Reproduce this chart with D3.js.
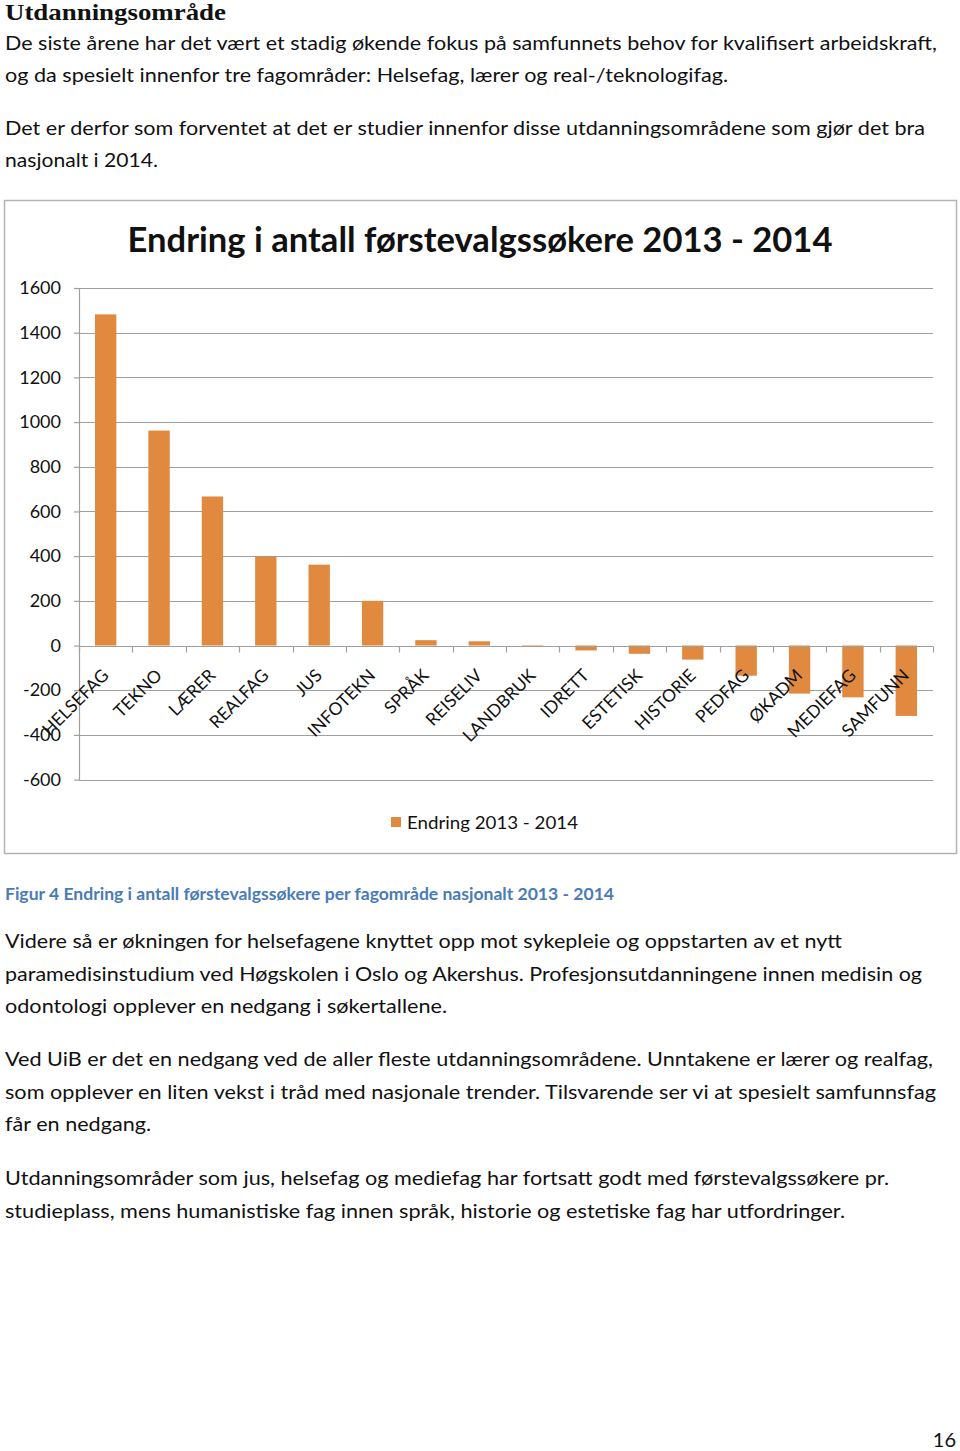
<!DOCTYPE html>
<html><head><meta charset="utf-8">
<script src="https://cdn.jsdelivr.net/npm/d3@7"></script>
<style>
html,body{margin:0;padding:0;background:#fff;}
svg{display:block;}
</style></head>
<body>
<script>
const categories = ["HELSEFAG","TEKNO","LÆRER","REALFAG","JUS","INFOTEKN","SPRÅK","REISELIV","LANDBRUK","IDRETT","ESTETISK","HISTORIE","PEDFAG","ØKADM","MEDIEFAG","SAMFUNN"];
const values = [1482, 962, 667, 398, 362, 200, 24, 19, -3, -22, -37, -63, -135, -215, -232, -315];
const yTicks = [-600,-400,-200,0,200,400,600,800,1000,1200,1400,1600];
const seriesName = "Endring 2013 - 2014";
const chartTitle = "Endring i antall førstevalgssøkere 2013 - 2014";
const heading = "Utdanningsområde";
const introLines = [
  "De siste årene har det vært et stadig økende fokus på samfunnets behov for kvalifisert arbeidskraft,",
  "og da spesielt innenfor tre fagområder: Helsefag, lærer og real-/teknologifag.",
  "Det er derfor som forventet at det er studier innenfor disse utdanningsområdene som gjør det bra",
  "nasjonalt i 2014."
];
const captionText = "Figur 4 Endring i antall førstevalgssøkere per fagområde nasjonalt 2013 - 2014";
const bodyLines = [
  "Videre så er økningen for helsefagene knyttet opp mot sykepleie og oppstarten av et nytt",
  "paramedisinstudium ved Høgskolen i Oslo og Akershus. Profesjonsutdanningene innen medisin og",
  "odontologi opplever en nedgang i søkertallene.",
  "Ved UiB er det en nedgang ved de aller fleste utdanningsområdene. Unntakene er lærer og realfag,",
  "som opplever en liten vekst i tråd med nasjonale trender. Tilsvarende ser vi at spesielt samfunnsfag",
  "får en nedgang.",
  "Utdanningsområder som jus, helsefag og mediefag har fortsatt godt med førstevalgssøkere pr.",
  "studieplass, mens humanistiske fag innen språk, historie og estetiske fag har utfordringer."
];
const pageNumber = "16";

const W = 960, H = 1451;
const FONT = "Lato, 'Open Sans', sans-serif";
const TXT = "#111";
const BAR = "#e0893f";
const GRID = "#9f9f9f";

const svg = d3.select("body").append("svg").attr("width", W).attr("height", H);

// Heading
svg.append("text").attr("x", 5).attr("y", 20)
  .attr("font-family", "'Liberation Serif', serif").attr("font-weight", "bold")
  .attr("font-size", 24).attr("fill", TXT)
  .attr("textLength", 221).attr("lengthAdjust", "spacingAndGlyphs")
  .text(heading);

// Intro lines
const introY = [50, 82, 135, 167];
const introW = [932, 723, 920, 153];
introLines.forEach((t, i) => {
  svg.append("text").attr("x", 5).attr("y", introY[i])
    .attr("font-family", FONT).attr("font-size", 20).attr("fill", TXT)
    .attr("textLength", introW[i]).attr("lengthAdjust", "spacingAndGlyphs")
    .text(t);
});

// Chart frame
svg.append("rect").attr("x", 4.5).attr("y", 200.5).attr("width", 952).attr("height", 653)
  .attr("fill", "#fff").attr("stroke", "#b4b4b4").attr("stroke-width", 1.5);

// Chart title
svg.append("text").attr("x", 480).attr("y", 252).attr("text-anchor", "middle")
  .attr("font-family", FONT).attr("font-weight", "bold").attr("font-size", 34).attr("fill", TXT)
  .attr("textLength", 705).attr("lengthAdjust", "spacingAndGlyphs")
  .text(chartTitle);

// Scales
const x = d3.scaleBand().domain(categories).range([79, 933]).padding(0);
const y = d3.scaleLinear().domain([-600, 1600]).range([779.6, 288]);

// Gridlines
const gGrid = svg.append("g");
yTicks.forEach(t => {
  gGrid.append("line").attr("x1", 79).attr("x2", 933)
    .attr("y1", Math.round(y(t)) + 0.5).attr("y2", Math.round(y(t)) + 0.5)
    .attr("stroke", GRID).attr("stroke-width", 1.2);
});

// Y axis
const yAxis = d3.axisLeft(y).tickValues(yTicks).tickSize(5).tickPadding(13).tickSizeOuter(0)
  .tickFormat(d => String(d));
const gy = svg.append("g").attr("transform", "translate(79,0)").call(yAxis);
gy.select(".domain").attr("stroke", GRID).attr("stroke-width", 1.2);
gy.selectAll(".tick line").attr("stroke", GRID).attr("stroke-width", 1.2);
gy.selectAll(".tick text").attr("font-family", FONT).attr("font-size", 18).attr("fill", TXT);

// Bars
const bw = x.bandwidth() * 0.4;
svg.append("g").selectAll("rect").data(values).join("rect")
  .attr("x", (d, i) => x(categories[i]) + (x.bandwidth() - bw) / 2)
  .attr("y", d => y(Math.max(0, d)))
  .attr("width", bw)
  .attr("height", d => Math.abs(y(d) - y(0)))
  .attr("fill", BAR);

// X axis line at zero with ticks at category boundaries
const zeroY = Math.round(y(0)) + 0.5;
svg.append("line").attr("x1", 79).attr("x2", 933).attr("y1", zeroY).attr("y2", zeroY)
  .attr("stroke", GRID).attr("stroke-width", 1.2);
const boundaries = categories.map(c => x(c)).concat([x.range()[1]]);
svg.append("g").selectAll("line").data(boundaries).join("line")
  .attr("x1", d => Math.round(d) + 0.5).attr("x2", d => Math.round(d) + 0.5)
  .attr("y1", zeroY).attr("y2", zeroY + 6)
  .attr("stroke", GRID).attr("stroke-width", 1.2);

// Category labels rotated
svg.append("g").selectAll("text").data(categories).join("text")
  .attr("transform", c => `translate(${x(c) + x.bandwidth() / 2 + 4},${zeroY + 30}) rotate(-45)`)
  .attr("text-anchor", "end")
  .attr("font-family", FONT).attr("font-size", 17.5).attr("fill", TXT)
  .text(c => c);

// Legend
svg.append("rect").attr("x", 391).attr("y", 817).attr("width", 10).attr("height", 10).attr("fill", BAR);
svg.append("text").attr("x", 407).attr("y", 829)
  .attr("font-family", FONT).attr("font-size", 18).attr("fill", TXT)
  .attr("textLength", 171).attr("lengthAdjust", "spacingAndGlyphs")
  .text(seriesName);

// Caption
svg.append("text").attr("x", 5).attr("y", 900)
  .attr("font-family", FONT).attr("font-weight", "bold").attr("font-size", 17).attr("fill", "#4a7bb7")
  .attr("textLength", 609).attr("lengthAdjust", "spacingAndGlyphs")
  .text(captionText);

// Body lines
const bodyY = [948, 981, 1013, 1066, 1099, 1131, 1185, 1218];
const bodyW = [837, 917, 442, 928, 931, 146, 884, 840];
bodyLines.forEach((t, i) => {
  svg.append("text").attr("x", 5).attr("y", bodyY[i])
    .attr("font-family", FONT).attr("font-size", 20).attr("fill", TXT)
    .attr("textLength", bodyW[i]).attr("lengthAdjust", "spacingAndGlyphs")
    .text(t);
});

// Page number
svg.append("text").attr("x", 956).attr("y", 1447).attr("text-anchor", "end")
  .attr("font-family", FONT).attr("font-size", 20).attr("fill", TXT)
  .text(pageNumber);
</script>
</body></html>
